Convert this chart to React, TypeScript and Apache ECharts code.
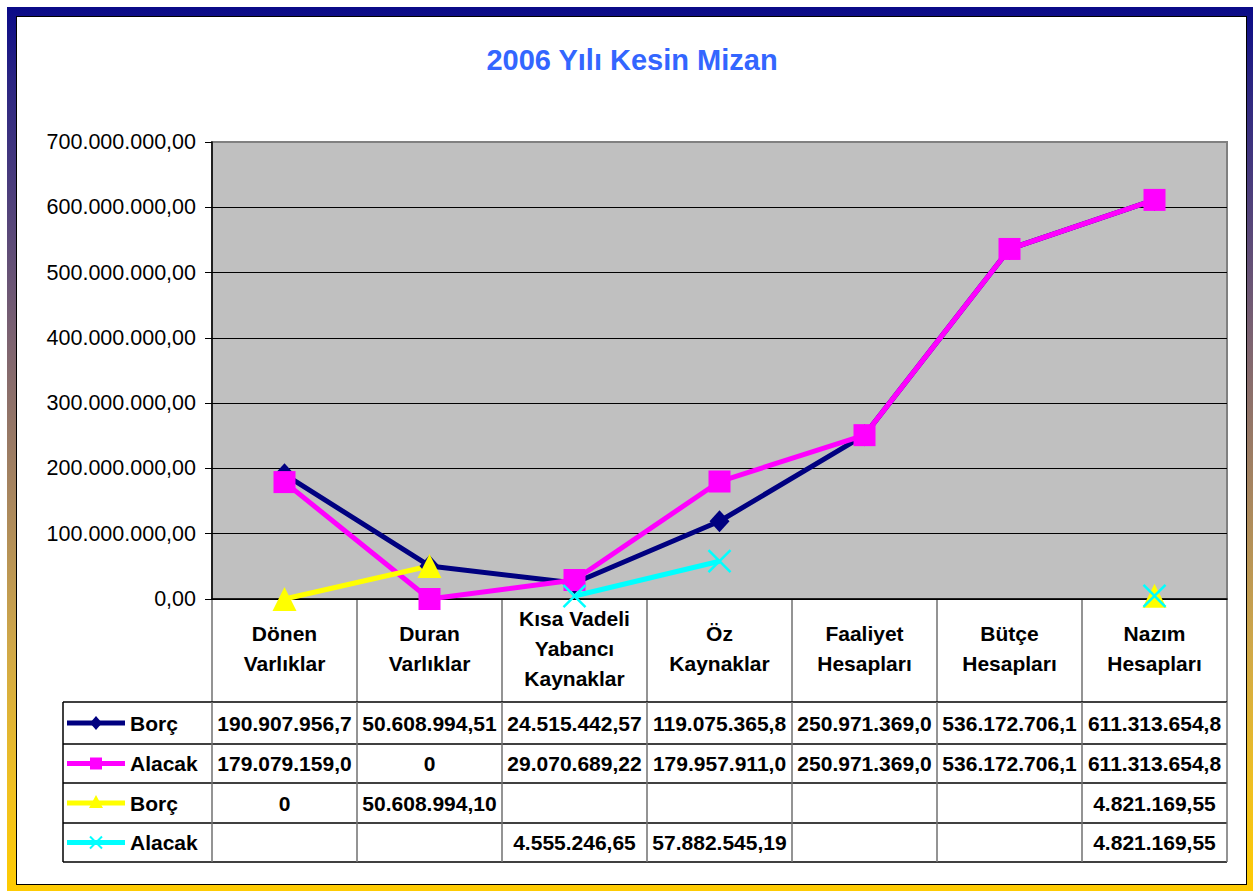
import React, { useEffect, useRef } from 'react';
import * as echarts from 'echarts';

const title = '2006 Yılı Kesin Mizan';
const categories = [
  'Dönen\nVarlıklar',
  'Duran\nVarlıklar',
  'Kısa Vadeli\nYabancı\nKaynaklar',
  'Öz\nKaynaklar',
  'Faaliyet\nHesapları',
  'Bütçe\nHesapları',
  'Nazım\nHesapları',
];
const seriesNames = ['Borç', 'Alacak', 'Borç', 'Alacak'];
const borc1 = [190907956.7, 50608994.51, 24515442.57, 119075365.8, 250971369.0, 536172706.1, 611313654.8];
const alacak1 = [179079159.0, 0, 29070689.22, 179957911.0, 250971369.0, 536172706.1, 611313654.8];
const borc2 = [0, 50608994.1, null, null, null, null, 4821169.55];
const alacak2 = [null, null, 4555246.65, 57882545.19, null, null, 4821169.55];
const yMin = 0;
const yMax = 700000000;
const yStep = 100000000;

const allData = [borc1, alacak1, borc2, alacak2];
const colors = ['#000080', '#FF00FF', '#FFFF00', '#00FFFF'];
const FONT = "Arial, 'Liberation Sans', Helvetica, sans-serif";

const GRID = { left: 212, top: 142, width: 1015, height: 457 };
const rowLines = [702, 744, 783, 823, 862];
const tableLeft = 63;
const CELL_CHARS = 13;

function fmtNum(v: number): string {
  const [i, d] = Math.abs(v).toFixed(2).split('.');
  return (v < 0 ? '-' : '') + i.replace(/\B(?=(\d{3})+(?!\d))/g, '.') + ',' + d;
}
function cellText(v: number | null): string {
  if (v === null || v === undefined) return '';
  if (v === 0) return '0';
  return fmtNum(v).slice(0, CELL_CHARS);
}

function legendMarker(kind: number, cx: number, cy: number, color: string): any {
  if (kind === 0) {
    return { type: 'polygon', shape: { points: [[cx, cy - 7], [cx + 6, cy], [cx, cy + 7], [cx - 6, cy]] }, style: { fill: color } };
  }
  if (kind === 1) {
    return { type: 'rect', shape: { x: cx - 6, y: cy - 6, width: 12, height: 12 }, style: { fill: color } };
  }
  if (kind === 2) {
    return { type: 'polygon', shape: { points: [[cx, cy - 8], [cx + 7, cy + 5], [cx - 7, cy + 5]] }, style: { fill: color } };
  }
  return {
    type: 'group',
    children: [
      { type: 'line', shape: { x1: cx - 6, y1: cy - 6, x2: cx + 6, y2: cy + 6 }, style: { stroke: color, lineWidth: 2 } },
      { type: 'line', shape: { x1: cx + 6, y1: cy - 6, x2: cx - 6, y2: cy + 6 }, style: { stroke: color, lineWidth: 2 } },
    ],
  };
}

export default function App() {
  const ref = useRef<HTMLDivElement>(null);
  useEffect(() => {
    if (!ref.current) return;
    const chart = echarts.init(ref.current, undefined, { renderer: 'svg' });
    const n = categories.length;
    const colW = GRID.width / n;
    const colX = Array.from({ length: n + 1 }, (_, i) => GRID.left + i * colW);
    const right = GRID.left + GRID.width;
    const graphics: any[] = [];
    colX.forEach((x) => {
      graphics.push({ type: 'line', shape: { x1: x, y1: GRID.top + GRID.height, x2: x, y2: rowLines[0] }, style: { stroke: '#707070', lineWidth: 1.5 } });
    });
    rowLines.forEach((y) => {
      graphics.push({ type: 'line', shape: { x1: tableLeft, y1: y, x2: right, y2: y }, style: { stroke: '#000', lineWidth: 1.5 } });
    });
    [tableLeft, ...colX].forEach((x, i) => {
      graphics.push({ type: 'line', shape: { x1: x, y1: rowLines[0], x2: x, y2: rowLines[rowLines.length - 1] }, style: { stroke: i === 0 ? '#000' : '#707070', lineWidth: 1.5 } });
    });
    allData.forEach((arr, r) => {
      const cy = (rowLines[r] + rowLines[r + 1]) / 2;
      graphics.push({ type: 'line', shape: { x1: 67, y1: cy, x2: 125, y2: cy }, style: { stroke: colors[r], lineWidth: 5 } });
      graphics.push(legendMarker(r, 96, cy, colors[r]));
      graphics.push({
        type: 'text', x: 130, y: cy,
        style: { text: seriesNames[r], font: `bold 21px ${FONT}`, fill: '#000', textAlign: 'left', textVerticalAlign: 'middle' },
      });
      arr.forEach((v, c) => {
        const t = cellText(v as any);
        if (!t) return;
        graphics.push({
          type: 'text', x: colX[c] + colW / 2, y: cy,
          style: { text: t, font: `bold 21px ${FONT}`, fill: '#000', textAlign: 'center', textVerticalAlign: 'middle' },
        });
      });
    });

    const symbols: any[] = ['diamond', 'rect', 'triangle', 'path://M0,0L10,10M10,0L0,10'];
    const sizes: any[] = [[20, 22], 22, [24, 24], 22];

    chart.setOption({
      animation: false,
      backgroundColor: 'transparent',
      title: {
        text: title,
        left: 627,
        textAlign: 'center',
        top: 40,
        textStyle: { color: '#3366FF', fontSize: 29, fontWeight: 'bold', fontFamily: FONT },
      },
      grid: {
        left: GRID.left, top: GRID.top, width: GRID.width, height: GRID.height,
        show: true, backgroundColor: '#C0C0C0', borderColor: '#808080', borderWidth: 2,
      },
      xAxis: {
        type: 'category',
        data: categories,
        boundaryGap: true,
        axisLine: { lineStyle: { color: '#000', width: 1.5 } },
        axisTick: { show: false },
        axisLabel: {
          interval: 0,
          margin: 49,
          verticalAlign: 'middle',
          color: '#000',
          fontSize: 21,
          fontWeight: 'bold',
          fontFamily: FONT,
          lineHeight: 30,
          align: 'center',
        },
        splitLine: { show: false },
      },
      yAxis: {
        type: 'value',
        min: yMin, max: yMax, interval: yStep,
        axisLine: { show: true, lineStyle: { color: '#000', width: 1.5 } },
        axisTick: { show: true, length: 7, lineStyle: { color: '#000' } },
        axisLabel: { margin: 16, color: '#000', fontSize: 21.5, fontFamily: FONT, formatter: (v: number) => fmtNum(v) },
        splitLine: { show: true, showMaxLine: false, lineStyle: { color: '#000', width: 1 } },
      },
      series: allData.map((d, i) => ({
        type: 'line',
        name: seriesNames[i],
        data: d,
        connectNulls: false,
        symbol: symbols[i],
        symbolSize: sizes[i],
        showAllSymbol: true,
        lineStyle: { color: colors[i], width: 5 },
        itemStyle: i === 3
          ? { color: colors[i], borderColor: colors[i], borderWidth: 2.5 }
          : { color: colors[i], borderWidth: 0 },
        emphasis: { disabled: true },
      })),
      graphic: graphics,
    });
    return () => chart.dispose();
  }, []);

  return (
    <div style={{ position: 'absolute', left: 0, top: 0, width: 1256, height: 891, overflow: 'hidden', background: '#fff' }}>
      <div style={{ position: 'absolute', left: 7, top: 7, width: 1246, height: 890, background: 'linear-gradient(to bottom, #0A0A88 0%, #2A2482 8%, #4A3C7C 20%, #7E6470 38%, #A8865E 55%, #D0A848 72%, #F0C020 88%, #FFCC00 100%)' }} />
      <div style={{ position: 'absolute', left: 16, top: 16, width: 1231, height: 869, background: '#fff', border: '1px solid #000', boxSizing: 'border-box' }} />
      <div ref={ref} style={{ position: 'absolute', left: 0, top: 0, width: 1256, height: 891 }} />
    </div>
  );
}
